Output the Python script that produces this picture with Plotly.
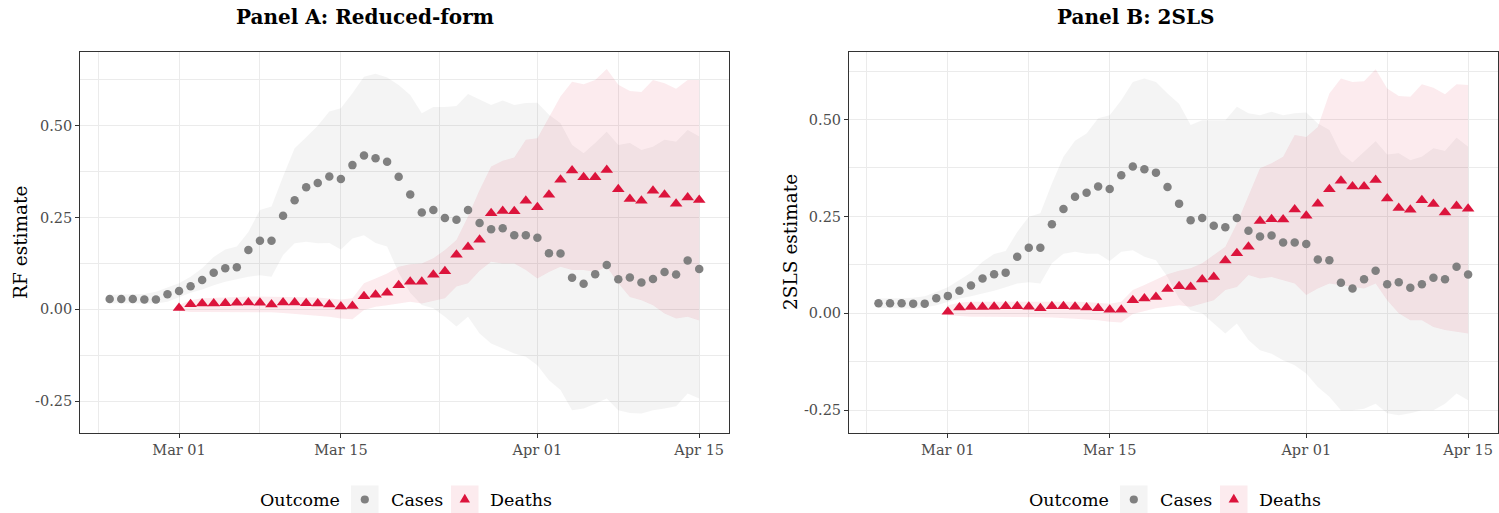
import pandas as pd
import plotly.graph_objects as go

W, H = 1499, 513

# ---------------- data ----------------
case_dates = pd.date_range("2020-02-24", "2020-04-15", freq="D")
death_dates = pd.date_range("2020-03-01", "2020-04-15", freq="D")

# Panel A: reduced form
rf_cases = [0.028, 0.028, 0.028, 0.027, 0.027, 0.041, 0.050, 0.063, 0.080, 0.100,
            0.112, 0.115, 0.162, 0.187, 0.187, 0.255, 0.297, 0.333, 0.344, 0.362,
            0.355, 0.393, 0.419, 0.412, 0.402, 0.361, 0.313, 0.264, 0.271, 0.249,
            0.244, 0.271, 0.235, 0.218, 0.221, 0.202, 0.202, 0.195, 0.153, 0.152,
            0.086, 0.070, 0.096, 0.121, 0.082, 0.087, 0.073, 0.083, 0.102, 0.095,
            0.133, 0.110]
rf_cases_lo = [0.017, 0.017, 0.016, 0.015, 0.016, 0.021, 0.034, 0.045, 0.054, 0.066,
               0.075, 0.082, 0.089, 0.093, 0.089, 0.148, 0.180, 0.184, 0.180, 0.181,
               0.163, 0.193, 0.202, 0.181, 0.171, 0.100, 0.045, 0.012, 0.003, -0.020,
               -0.047, -0.020, -0.066, -0.093, -0.107, -0.120, -0.129, -0.152, -0.193, -0.220,
               -0.275, -0.270, -0.257, -0.243, -0.275, -0.282, -0.284, -0.275, -0.270, -0.264,
               -0.229, -0.243]
rf_cases_hi = [0.040, 0.040, 0.041, 0.042, 0.048, 0.060, 0.071, 0.089, 0.112, 0.143,
               0.163, 0.171, 0.211, 0.271, 0.280, 0.362, 0.439, 0.469, 0.500, 0.539,
               0.548, 0.589, 0.634, 0.642, 0.632, 0.611, 0.584, 0.534, 0.551, 0.551,
               0.554, 0.587, 0.571, 0.557, 0.569, 0.557, 0.562, 0.563, 0.530, 0.507,
               0.448, 0.425, 0.453, 0.484, 0.448, 0.453, 0.434, 0.443, 0.462, 0.457,
               0.489, 0.471]
rf_deaths = [0.004, 0.014, 0.016, 0.016, 0.017, 0.018, 0.019, 0.018, 0.013, 0.019,
             0.019, 0.017, 0.016, 0.013, 0.008, 0.009, 0.036, 0.040, 0.045, 0.066,
             0.075, 0.075, 0.094, 0.104, 0.149, 0.170, 0.190, 0.262, 0.268, 0.267,
             0.296, 0.278, 0.312, 0.353, 0.378, 0.360, 0.360, 0.380, 0.327, 0.301,
             0.296, 0.323, 0.312, 0.288, 0.305, 0.298]
rf_deaths_lo = [-0.004, -0.007, -0.007, -0.007, -0.007, -0.007, -0.007, -0.008, -0.008, -0.010,
                -0.012, -0.014, -0.017, -0.020, -0.025, -0.027, -0.002, 0.007, 0.011, 0.016,
                0.021, 0.016, 0.023, 0.030, 0.062, 0.071, 0.105, 0.130, 0.125, 0.125,
                0.107, 0.084, 0.102, 0.116, 0.107, 0.107, 0.102, 0.116, 0.071, 0.034,
                0.025, 0.011, -0.011, -0.025, -0.020, -0.030]
rf_deaths_hi = [0.012, 0.025, 0.030, 0.032, 0.033, 0.034, 0.035, 0.035, 0.033, 0.034,
                0.034, 0.033, 0.032, 0.030, 0.027, 0.030, 0.071, 0.084, 0.098, 0.116,
                0.123, 0.125, 0.139, 0.162, 0.189, 0.253, 0.325, 0.389, 0.405, 0.414,
                0.462, 0.466, 0.521, 0.580, 0.620, 0.613, 0.625, 0.655, 0.612, 0.595,
                0.592, 0.625, 0.616, 0.601, 0.625, 0.625]

# Panel B: 2SLS
iv_cases = [0.026, 0.026, 0.026, 0.025, 0.025, 0.039, 0.045, 0.058, 0.072, 0.090,
            0.101, 0.105, 0.146, 0.169, 0.169, 0.230, 0.269, 0.301, 0.311, 0.327,
            0.321, 0.356, 0.379, 0.372, 0.363, 0.326, 0.283, 0.240, 0.246, 0.226,
            0.222, 0.246, 0.213, 0.198, 0.201, 0.183, 0.183, 0.179, 0.139, 0.137,
            0.079, 0.064, 0.088, 0.110, 0.075, 0.080, 0.066, 0.075, 0.092, 0.088,
            0.120, 0.100]
iv_cases_lo = [0.014, 0.014, 0.013, 0.012, 0.015, 0.021, 0.030, 0.038, 0.044, 0.051,
               0.058, 0.067, 0.077, 0.080, 0.077, 0.129, 0.154, 0.159, 0.154, 0.154,
               0.135, 0.159, 0.163, 0.146, 0.137, 0.094, 0.038, 0.008, 0.000, -0.026,
               -0.052, -0.026, -0.069, -0.095, -0.104, -0.121, -0.134, -0.155, -0.190, -0.215,
               -0.250, -0.250, -0.246, -0.233, -0.258, -0.263, -0.258, -0.250, -0.250, -0.233,
               -0.207, -0.224]
iv_cases_hi = [0.038, 0.038, 0.039, 0.040, 0.044, 0.055, 0.067, 0.086, 0.105, 0.133,
               0.153, 0.161, 0.210, 0.249, 0.258, 0.335, 0.404, 0.445, 0.464, 0.503,
               0.511, 0.550, 0.597, 0.606, 0.597, 0.567, 0.541, 0.486, 0.498, 0.498,
               0.498, 0.533, 0.516, 0.511, 0.520, 0.511, 0.516, 0.518, 0.490, 0.473,
               0.413, 0.389, 0.417, 0.444, 0.410, 0.413, 0.395, 0.404, 0.426, 0.419,
               0.453, 0.430]
iv_deaths = [0.004, 0.015, 0.016, 0.016, 0.017, 0.018, 0.018, 0.017, 0.013, 0.018,
             0.018, 0.017, 0.015, 0.013, 0.009, 0.009, 0.034, 0.038, 0.042, 0.063,
             0.070, 0.068, 0.087, 0.094, 0.136, 0.155, 0.172, 0.238, 0.243, 0.242,
             0.268, 0.252, 0.283, 0.320, 0.342, 0.327, 0.327, 0.344, 0.296, 0.272,
             0.267, 0.292, 0.282, 0.260, 0.277, 0.270]
iv_deaths_lo = [-0.005, -0.007, -0.009, -0.009, -0.009, -0.009, -0.009, -0.010, -0.010, -0.011,
                -0.012, -0.014, -0.016, -0.018, -0.022, -0.024, -0.002, 0.006, 0.013, 0.017,
                0.021, 0.017, 0.025, 0.034, 0.060, 0.068, 0.099, 0.090, 0.094, 0.086,
                0.077, 0.047, 0.064, 0.077, 0.073, 0.068, 0.064, 0.077, 0.034, 0.000,
                -0.018, -0.018, -0.035, -0.043, -0.048, -0.052]
iv_deaths_hi = [0.021, 0.027, 0.030, 0.030, 0.030, 0.031, 0.031, 0.031, 0.030, 0.031,
                0.031, 0.030, 0.029, 0.027, 0.025, 0.030, 0.060, 0.073, 0.086, 0.101,
                0.110, 0.116, 0.129, 0.150, 0.172, 0.232, 0.301, 0.374, 0.387, 0.404,
                0.460, 0.455, 0.481, 0.567, 0.606, 0.597, 0.599, 0.630, 0.580, 0.561,
                0.559, 0.591, 0.582, 0.565, 0.591, 0.589]

x_tickvals = ["2020-03-01", "2020-03-15", "2020-04-01", "2020-04-15"]
x_ticktext = ["Mar 01", "Mar 15", "Apr 01", "Apr 15"]
x_minor = ["2020-02-23", "2020-03-08", "2020-03-23 12:00", "2020-04-08"]
y_tickvals = [-0.25, 0.0, 0.25, 0.5]
y_ticktext = ["-0.25", "0.00", "0.25", "0.50"]
y_minor = [-0.125, 0.125, 0.375, 0.625]

panel_titles = ["Panel A: Reduced-form", "Panel B: 2SLS"]
y_titles = ["RF estimate", "2SLS estimate"]
outcomes = ["Cases", "Deaths"]

# ---------------- style ----------------
FONT = "DejaVu Serif"
GREY = "#808080"
RED = "#DC143C"
GREY_FILL = "rgba(128,128,128,0.085)"
RED_FILL = "rgba(220,20,60,0.085)"

fig = go.Figure()

panels = [
    dict(cases=(rf_cases, rf_cases_lo, rf_cases_hi), deaths=(rf_deaths, rf_deaths_lo, rf_deaths_hi),
         xa="x", ya="y"),
    dict(cases=(iv_cases, iv_cases_lo, iv_cases_hi), deaths=(iv_deaths, iv_deaths_lo, iv_deaths_hi),
         xa="x2", ya="y2"),
]

for p in panels:
    for dates, (est, lo, hi), fill in [(case_dates, p["cases"], GREY_FILL),
                                       (death_dates, p["deaths"], RED_FILL)]:
        fig.add_trace(go.Scatter(x=dates, y=lo, mode="lines", line=dict(width=0),
                                 xaxis=p["xa"], yaxis=p["ya"], showlegend=False, hoverinfo="skip"))
        fig.add_trace(go.Scatter(x=dates, y=hi, mode="lines", line=dict(width=0), fill="tonexty",
                                 fillcolor=fill, xaxis=p["xa"], yaxis=p["ya"], showlegend=False,
                                 hoverinfo="skip"))
    fig.add_trace(go.Scatter(x=case_dates, y=p["cases"][0], mode="markers", name="Cases",
                             marker=dict(symbol="circle", size=8.5, color=GREY),
                             xaxis=p["xa"], yaxis=p["ya"], showlegend=False))
    fig.add_trace(go.Scatter(x=death_dates, y=p["deaths"][0], mode="markers", name="Deaths",
                             marker=dict(symbol="triangle-up", size=11, color=RED),
                             xaxis=p["xa"], yaxis=p["ya"], showlegend=False))

# ---------------- axes ----------------
def px(x):
    return x / W


def py(y):
    return 1 - y / H


y_dom = [py(432.7), py(51.7)]
x_doms = [[px(80.2), px(728.7)], [px(849.0), px(1497.6)]]
y_ranges = [[-0.336, 0.702], [-0.308, 0.675]]
x_range = ["2020-02-21 10:48", "2020-04-17 13:12"]

common_axis = dict(
    showline=True, mirror=True, linecolor="#333333", linewidth=1,
    ticks="outside", ticklen=4, tickcolor="#333333", tickwidth=1,
    showgrid=True, gridcolor="#ebebeb", gridwidth=1.2, zeroline=False,
    tickfont=dict(family=FONT, size=14.5, color="#4d4d4d"),
)

layout_axes = {}
for k in range(2):
    sfx = "" if k == 0 else str(k + 1)
    layout_axes["xaxis" + sfx] = dict(
        common_axis, domain=x_doms[k], anchor="y" + sfx, type="date", range=x_range,
        tickmode="array", tickvals=x_tickvals, ticktext=x_ticktext,
        minor=dict(tickmode="array", tickvals=x_minor, showgrid=True, gridcolor="#ebebeb",
                   gridwidth=0.6, ticklen=0),
    )
    layout_axes["yaxis" + sfx] = dict(
        common_axis, domain=y_dom, anchor="x" + sfx, range=y_ranges[k],
        tickmode="array", tickvals=y_tickvals, ticktext=y_ticktext,
        minor=dict(tickmode="array", tickvals=y_minor, showgrid=True, gridcolor="#ebebeb",
                   gridwidth=0.6, ticklen=0),
    )

# ---------------- annotations (titles) ----------------
annotations = []
title_centers = [365, 1135]
ytitle_x = [19.7, 789.7]
for k in range(2):
    annotations.append(dict(
        text="<b>" + panel_titles[k] + "</b>", xref="paper", yref="paper",
        x=px(title_centers[k]), y=py(17), xanchor="center", yanchor="middle", showarrow=False,
        font=dict(family=FONT, size=20, color="black")))
    annotations.append(dict(
        text=y_titles[k], xref="paper", yref="paper", textangle=-90,
        x=px(ytitle_x[k]), y=py(242.2), xanchor="center", yanchor="middle", showarrow=False,
        font=dict(family=FONT, size=18.5, color="black")))

# ---------------- manual legends ----------------
shapes = []
leg_y = 499.5
for k, off in enumerate([0, 769]):
    annotations.append(dict(text="Outcome", xref="paper", yref="paper", x=px(258 + off), y=py(leg_y),
                            xanchor="left", yanchor="middle", showarrow=False,
                            font=dict(family=FONT, size=17.5, color="black")))
    annotations.append(dict(text=outcomes[0], xref="paper", yref="paper", x=px(389 + off), y=py(leg_y),
                            xanchor="left", yanchor="middle", showarrow=False,
                            font=dict(family=FONT, size=17.5, color="black")))
    annotations.append(dict(text=outcomes[1], xref="paper", yref="paper", x=px(488 + off), y=py(leg_y),
                            xanchor="left", yanchor="middle", showarrow=False,
                            font=dict(family=FONT, size=17.5, color="black")))
    shapes.append(dict(type="rect", xref="paper", yref="paper", x0=px(351 + off), x1=px(378.5 + off),
                       y0=py(513), y1=py(485.5), fillcolor=GREY_FILL, line=dict(width=0), layer="below"))
    shapes.append(dict(type="rect", xref="paper", yref="paper", x0=px(451 + off), x1=px(478.5 + off),
                       y0=py(513), y1=py(485.5), fillcolor=RED_FILL, line=dict(width=0), layer="below"))
    cx, cy, r = 364.8 + off, leg_y, 4.1
    shapes.append(dict(type="circle", xref="paper", yref="paper", x0=px(cx - r), x1=px(cx + r),
                       y0=py(cy + r), y1=py(cy - r), fillcolor=GREY, line=dict(width=0)))
    tx, ty, s = 464.8 + off, leg_y, 5.2
    shapes.append(dict(type="path", xref="paper", yref="paper",
                       path=f"M {px(tx - s)} {py(ty + s * 0.6)} L {px(tx + s)} {py(ty + s * 0.6)} "
                            f"L {px(tx)} {py(ty - s * 1.1)} Z",
                       fillcolor=RED, line=dict(width=0)))

fig.update_layout(
    width=W, height=H, margin=dict(l=0, r=0, t=0, b=0),
    paper_bgcolor="white", plot_bgcolor="white",
    showlegend=False, annotations=annotations, shapes=shapes,
    font=dict(family=FONT),
    **layout_axes,
)

fig.write_html("out.html", config={"displayModeBar": False},
               post_script="document.body.style.margin='0';")
